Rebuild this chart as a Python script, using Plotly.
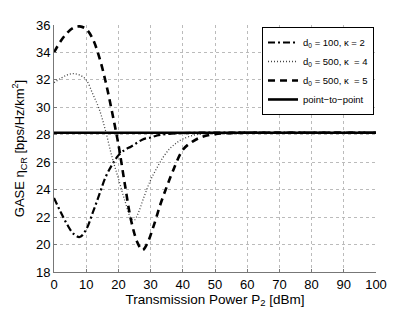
import plotly.graph_objects as go

# ---- data ----
x_k2 = [0, 2, 4, 6, 8, 10, 12, 14, 16, 18, 20, 22, 24, 26, 28, 30, 32, 35, 40, 45, 50, 60, 70, 80, 90, 100]
y_k2 = [23.4, 22.4, 21.5, 20.8, 20.55, 21.1, 22.3, 23.6, 24.9, 25.8, 26.5, 26.9, 27.15, 27.45, 27.7, 27.8, 27.95, 28.05, 28.12, 28.15, 28.15, 28.15, 28.15, 28.15, 28.15, 28.15]

x_k4 = [0, 2, 4, 6, 8, 10, 12, 14, 16, 18, 20, 22, 24, 25, 26, 28, 30, 32, 34, 36, 38, 40, 44, 48, 55, 60, 70, 80, 90, 100]
y_k4 = [31.8, 32.1, 32.35, 32.45, 32.35, 32.0, 31.0, 29.9, 28.3, 26.4, 24.8, 23.2, 21.9, 21.8, 22.2, 23.5, 24.7, 25.6, 26.4, 27.0, 27.4, 27.7, 28.0, 28.1, 28.15, 28.15, 28.15, 28.15, 28.15, 28.15]

x_k5 = [0, 2, 4, 6, 8, 10, 12, 14, 16, 18, 20, 22, 24, 26, 27.5, 29, 31, 33, 35, 37, 40, 43, 46, 50, 55, 60, 70, 80, 90, 100]
y_k5 = [34.0, 34.8, 35.4, 35.8, 35.9, 35.7, 35.0, 33.7, 31.9, 29.7, 27.3, 24.4, 21.7, 20.1, 19.6, 20.1, 21.4, 22.9, 24.2, 25.4, 26.9, 27.5, 27.85, 28.05, 28.12, 28.15, 28.15, 28.15, 28.15, 28.15]

x_p2p = [0, 100]
y_p2p = [28.15, 28.15]

names = ["d<sub>0</sub> = 100, κ = 2", "d<sub>0</sub> = 500, κ  = 4",
         "d<sub>0</sub> = 500, κ  = 5", "point−to−point"]

x_ticks = list(range(0, 101, 10))
y_ticks = list(range(18, 37, 2))

fig = go.Figure()
fig.add_trace(go.Scatter(x=x_k2, y=y_k2, mode="lines", name=names[0],
                         line=dict(color="black", width=2.2, dash="7px,3px,2px,3px", shape="spline")))
fig.add_trace(go.Scatter(x=x_k4, y=y_k4, mode="lines", name=names[1],
                         line=dict(color="#444", width=1.3, dash="1px,2px", shape="spline")))
fig.add_trace(go.Scatter(x=x_k5, y=y_k5, mode="lines", name=names[2],
                         line=dict(color="black", width=2.6, dash="7px,5px", shape="spline")))
fig.add_trace(go.Scatter(x=x_p2p, y=y_p2p, mode="lines", name=names[3],
                         line=dict(color="black", width=2.6)))

fnt = "Liberation Sans, Arial, sans-serif"
fig.update_layout(
    width=407, height=305,
    margin=dict(l=46, r=39, t=17, b=41),
    paper_bgcolor="white", plot_bgcolor="white",
    font=dict(family=fnt, size=12, color="black"),
    showlegend=True,
    legend=dict(x=0.646, y=0.992, xanchor="left", yanchor="top",
                bgcolor="white", bordercolor="black", borderwidth=1,
                font=dict(size=9.5), tracegroupgap=0, itemwidth=30,
                traceorder="normal"),
    xaxis=dict(range=[0, 100], tickvals=x_ticks, ticktext=[str(v) for v in x_ticks],
               showgrid=True, gridcolor="#bbbbbb", griddash="dot", gridwidth=1,
               showline=True, linecolor="#777", linewidth=1, mirror=False,
               ticks="inside", ticklen=3, tickcolor="#777", zeroline=False,
               tickfont=dict(size=13), automargin=False,
               title=dict(text="Transmission Power P<sub>2</sub> [dBm]", standoff=0, font=dict(size=13.5))),
    yaxis=dict(range=[18, 36], tickvals=y_ticks, ticktext=[str(v) for v in y_ticks],
               showgrid=True, gridcolor="#bbbbbb", griddash="dot", gridwidth=1,
               showline=True, linecolor="#777", linewidth=1, mirror=False,
               ticks="inside", ticklen=3, tickcolor="#777", zeroline=False,
               tickfont=dict(size=13), automargin=False,
               title=dict(text="GASE η<sub>CR</sub> [bps/Hz/km<sup>2</sup>]", standoff=8, font=dict(size=13))),
)

fig.write_html("out.html")
